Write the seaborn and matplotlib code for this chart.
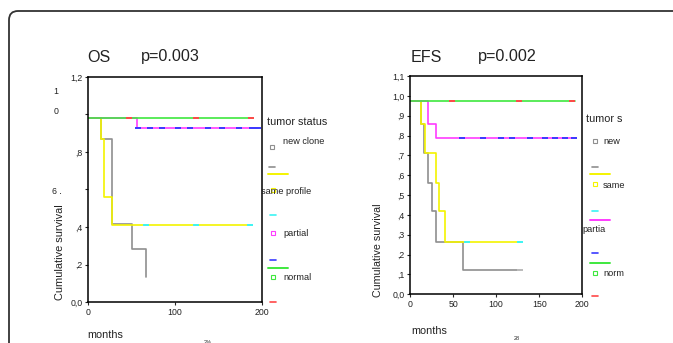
import numpy as np
import pandas as pd
import matplotlib
matplotlib.use("Agg")
import matplotlib.pyplot as plt
import seaborn as sns
from matplotlib.lines import Line2D
from matplotlib.patches import FancyBboxPatch

# ---- data (months, cumulative survival) ----
os_new_t = [0, 14.6, 28, 50, 66.7]
os_new_s = [0.98, 0.87, 0.416, 0.28, 0.133]
os_same_t = [0, 15, 18.7, 28, 186]
os_same_s = [0.98, 0.87, 0.56, 0.41, 0.41]
os_partial_t = [0, 56.7, 195]
os_partial_s = [0.98, 0.926, 0.926]
os_normal_t = [0, 190]
os_normal_s = [0.98, 0.98]

os_same_cens = [67, 124, 186]
os_partial_cens = [57, 71, 85, 104, 117, 138, 154, 173, 188, 195]
os_normal_cens = [47, 124, 187]

efs_new_t = [0, 13, 16.6, 20.5, 26, 30, 62, 128]
efs_new_s = [0.975, 0.856, 0.713, 0.562, 0.421, 0.265, 0.122, 0.122]
efs_same_t = [0, 13, 17, 30, 34, 40.6, 128]
efs_same_s = [0.975, 0.856, 0.713, 0.562, 0.421, 0.265, 0.265]
efs_partial_t = [0, 20.5, 30, 193]
efs_partial_s = [0.975, 0.856, 0.786, 0.786]
efs_normal_t = [0, 191]
efs_normal_s = [0.975, 0.975]

efs_new_cens = [128]
efs_same_cens = [66, 128]
efs_partial_cens = [60, 85, 106, 118, 139, 157, 168, 180, 190]
efs_normal_cens = [49, 126, 188]

os_yticks = [0, 0.2, 0.4, 0.6, 0.8, 1.0, 1.2]
os_yticklabels = ["0,0", ",2", ",4", "", ",8", "", "1,2"]
os_xticks = [0, 100, 200]
efs_yticks = [0, 0.1, 0.2, 0.3, 0.4, 0.5, 0.6, 0.7, 0.8, 0.9, 1.0, 1.1]
efs_yticklabels = ["0,0", ",1", ",2", ",3", ",4", ",5", ",6", ",7", ",8", ",9", "1,0", "1,1"]
efs_xticks = [0, 50, 100, 150, 200]

GRAY = "#8f8f8f"
YELLOW = "#f4f400"
MAGENTA = "#ff3cff"
GREEN = "#3ee83e"
CYAN = "#3cf4f4"
BLUE = "#3a3aff"
RED = "#ff4848"

sns.set_style("white")
plt.rcParams["font.family"] = ["Liberation Sans", "DejaVu Sans"]

W, H = 673, 343
fig = plt.figure(figsize=(W / 100, H / 100), dpi=100)


def px(x, y):
    """pixel position (top-left origin) -> figure fraction"""
    return x / W, 1 - y / H


def step_value(t, s, x):
    i = np.searchsorted(t, x, side="right") - 1
    return s[max(i, 0)]


def draw_curve(ax, t, s, color):
    df = pd.DataFrame({"months": t, "surv": s})
    sns.lineplot(data=df, x="months", y="surv", drawstyle="steps-post", color=color,
                 linewidth=1.2, estimator=None, ax=ax)


def draw_censor(ax, t, s, cens, color):
    df = pd.DataFrame({"months": cens, "surv": [step_value(t, s, c) for c in cens]})
    sns.scatterplot(data=df, x="months", y="surv", marker="_", s=22, color=color,
                    linewidth=1.4, zorder=5, ax=ax)


def setup_axis(ax, xmax, ymax, xticks, yticks, yticklabels):
    ax.set_xlim(0, xmax)
    ax.set_ylim(0, ymax)
    ax.set_xticks(xticks)
    ax.set_xticklabels([str(v) for v in xticks], fontsize=6.3)
    ax.set_yticks(yticks)
    ax.set_yticklabels(yticklabels, fontsize=6.3)
    ax.tick_params(length=2.5, width=0.8, pad=1.5, direction="out", left=True, bottom=True,
                   labelcolor="#222222")
    for sp in ax.spines.values():
        sp.set_visible(True)
        sp.set_color("black")
        sp.set_linewidth(1.1)
    ax.set_xlabel("")
    ax.set_ylabel("")


def legend_block(entries):
    for kind, x, y, color, label in entries:
        fx, fy = px(x, y)
        if kind == "sq":
            fig.add_artist(Line2D([fx], [fy], marker="s", markersize=2.6, mfc="none",
                                  mec=color, mew=0.8, linestyle="none"))
        elif kind == "dash":
            fig.add_artist(Line2D([fx - 3 / W, fx + 3 / W], [fy, fy], color=color, lw=1.2))
        elif kind == "line":
            fig.add_artist(Line2D([fx, fx + 20 / W], [fy, fy], color=color, lw=1.4))
        elif kind == "title":
            fig.text(fx, fy, label, fontsize=7.8, ha="left", va="center", color="#222222")
        elif kind == "text":
            fig.text(fx, fy, label, fontsize=6.6, ha="left", va="center", color="#222222")


# ---- OS panel ----
ax1 = fig.add_axes([88 / W, 1 - 302 / H, (262 - 88) / W, (302 - 77) / H])
draw_curve(ax1, os_new_t, os_new_s, GRAY)
draw_curve(ax1, os_same_t, os_same_s, YELLOW)
draw_curve(ax1, os_partial_t, os_partial_s, MAGENTA)
draw_curve(ax1, os_normal_t, os_normal_s, GREEN)
draw_censor(ax1, os_same_t, os_same_s, os_same_cens, CYAN)
draw_censor(ax1, os_partial_t, os_partial_s, os_partial_cens, BLUE)
draw_censor(ax1, os_normal_t, os_normal_s, os_normal_cens, RED)
setup_axis(ax1, 200, 1.2, os_xticks, os_yticks, os_yticklabels)

# ---- EFS panel ----
ax2 = fig.add_axes([410 / W, 1 - 294.3 / H, (582.3 - 410) / W, (294.3 - 76) / H])
draw_curve(ax2, efs_new_t, efs_new_s, GRAY)
draw_curve(ax2, efs_same_t, efs_same_s, YELLOW)
draw_curve(ax2, efs_partial_t, efs_partial_s, MAGENTA)
draw_curve(ax2, efs_normal_t, efs_normal_s, GREEN)
draw_censor(ax2, efs_new_t, efs_new_s, efs_new_cens, "#bbbbbb")
draw_censor(ax2, efs_same_t, efs_same_s, efs_same_cens, CYAN)
draw_censor(ax2, efs_partial_t, efs_partial_s, efs_partial_cens, BLUE)
draw_censor(ax2, efs_normal_t, efs_normal_s, efs_normal_cens, RED)
setup_axis(ax2, 200, 1.1, efs_xticks, efs_yticks, efs_yticklabels)

# ---- titles, axis texts (scanned layout) ----
fig.text(*px(87, 57), "OS", fontsize=11.6, ha="left", va="center", color="#222222")
fig.text(*px(141, 57), "p=0.003", fontsize=11.6, ha="left", va="center", color="#222222")
fig.text(*px(411, 57), "EFS", fontsize=11.6, ha="left", va="center", color="#222222")
fig.text(*px(478, 57), "p=0.002", fontsize=11.6, ha="left", va="center", color="#222222")

fig.text(*px(60, 252), "Cumulative survival", fontsize=7.9, rotation=90, ha="center", va="center",
         color="#222222")
fig.text(*px(378, 250), "Cumulative survival", fontsize=7.7, rotation=90, ha="center", va="center",
         color="#222222")
fig.text(*px(87, 335), "months", fontsize=7.8, ha="left", va="center", color="#222222")
fig.text(*px(411, 331), "months", fontsize=7.8, ha="left", va="center", color="#222222")
fig.text(*px(208, 342), "2%", fontsize=4, ha="center", va="center")
fig.text(*px(517, 339), "28", fontsize=4, ha="center", va="center")

# garbled OS tick labels of the scan
fig.text(*px(56, 92), "1", fontsize=6.3, ha="center", va="center", color="#222222")
fig.text(*px(56, 111), "0", fontsize=6.3, ha="center", va="center", color="#222222")
fig.text(*px(57, 192), "6 .", fontsize=6.3, ha="center", va="center", color="#222222")

legend_block([
    ("title", 267, 122, None, "tumor status"),
    ("sq", 272, 147, GRAY, None),
    ("text", 283, 141, None, "new clone"),
    ("dash", 272, 167, GRAY, None),
    ("line", 268, 174, YELLOW, None),
    ("sq", 273, 190, YELLOW, None),
    ("text", 261, 191, None, "same profile"),
    ("dash", 273, 215, CYAN, None),
    ("sq", 273, 233, MAGENTA, None),
    ("text", 283, 234, None, "partial"),
    ("dash", 273, 260, BLUE, None),
    ("line", 268, 268, GREEN, None),
    ("sq", 273, 277, GREEN, None),
    ("text", 283, 278, None, "normal"),
    ("dash", 273, 302, RED, None),
])

legend_block([
    ("title", 586, 119, None, "tumor s"),
    ("sq", 595, 141, GRAY, None),
    ("text", 603, 141, None, "new"),
    ("dash", 595, 167, GRAY, None),
    ("line", 590, 174, YELLOW, None),
    ("sq", 595, 184, YELLOW, None),
    ("text", 603, 185, None, "same"),
    ("dash", 595, 211, CYAN, None),
    ("line", 590, 220, MAGENTA, None),
    ("text", 582, 230, None, "partia"),
    ("dash", 595, 253, BLUE, None),
    ("line", 590, 263, GREEN, None),
    ("sq", 595, 273, GREEN, None),
    ("text", 603, 274, None, "norm"),
    ("dash", 595, 296, RED, None),
])

# outer rounded frame of the scanned page
frame = FancyBboxPatch((0.09, -1.0), 8.0, (343 - 11) / 100 + 1.0,
                       boxstyle="round,pad=0,rounding_size=0.09",
                       transform=fig.dpi_scale_trans, fill=False,
                       edgecolor="#333333", linewidth=1.3, clip_on=False)
fig.add_artist(frame)

fig.savefig("out.png", dpi=100)
